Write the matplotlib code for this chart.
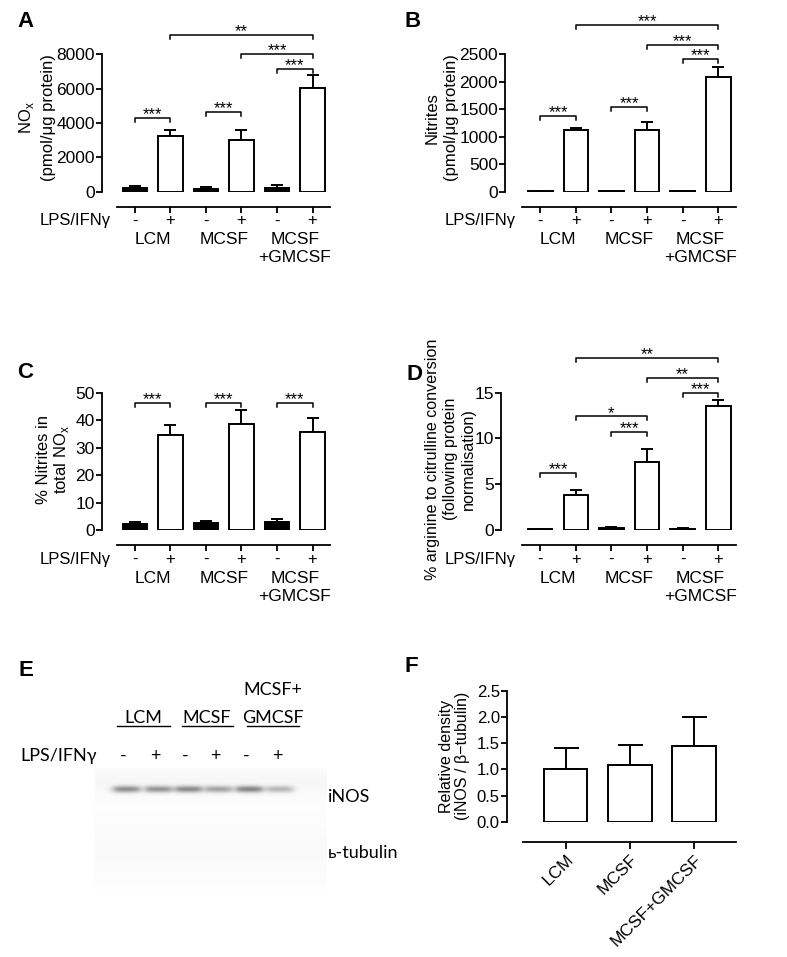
import numpy as np
import matplotlib
matplotlib.use("Agg")
from matplotlib import pyplot as plt

plt.rcParams['font.family'] = ['Liberation Sans', 'DejaVu Sans']

# data
treat = ['-', '+', '-', '+', '-', '+']
groups = ['LCM', 'MCSF', 'MCSF\n+GMCSF']

nox_mean = [200, 3260, 160, 3030, 200, 6020]
nox_err = [130, 330, 115, 580, 170, 780]
nox_brackets = [(0, 1, 4300, '***'), (2, 3, 4650, '***'), (4, 5, 7170, '***'),
                (3, 5, 8000, '***'), (1, 5, 9140, '**')]

nit_mean = [10, 1130, 8, 1125, 10, 2093]
nit_err = [0, 30, 0, 137, 0, 170]
nit_brackets = [(0, 1, 1383, '***'), (2, 3, 1535, '***'), (4, 5, 2409, '***'),
                (3, 5, 2670, '***'), (1, 5, 3034, '***')]

pct_mean = [2.3, 34.5, 2.5, 38.6, 2.8, 35.6]
pct_err = [0.7, 3.8, 0.6, 5.0, 1.1, 5.3]
pct_brackets = [(0, 1, 46.4, '***'), (2, 3, 46.4, '***'), (4, 5, 46.4, '***')]

cit_mean = [0.1, 3.8, 0.2, 7.4, 0.12, 13.55]
cit_err = [0.05, 0.55, 0.1, 1.45, 0.08, 0.65]
cit_brackets = [(0, 1, 6.2, '***'), (2, 3, 10.7, '***'), (1, 3, 12.4, '*'),
                (4, 5, 15.0, '***'), (3, 5, 16.6, '**'), (1, 5, 18.8, '**')]

dens_labels = ['LCM', 'MCSF', 'MCSF+GMCSF']
dens_mean = [1.0, 1.09, 1.44]
dens_err = [0.41, 0.38, 0.55]

band_strength = [0.42, 0.40, 0.44, 0.34, 0.46, 0.26]

W, H = 787, 957
fig = plt.figure(figsize=(W / 100, H / 100), dpi=100)


def px_axes(left, top, right, bottom):
    return fig.add_axes([left / W, 1 - bottom / H, (right - left) / W, (bottom - top) / H])


def bar_panel(ax, means, errs, ymax, yticks, brackets, xleft):
    x = np.arange(6)
    ax.bar(x, means, width=0.69, color=['black', 'white'] * 3, edgecolor='black',
           linewidth=1.4, zorder=3)
    ax.errorbar(x, means, yerr=[np.zeros(6), errs], fmt='none', ecolor='black',
                elinewidth=1.4, capsize=4.5, capthick=1.4, zorder=2)
    ax.set_xlim(xleft, 5.55)
    ax.set_ylim(0, ymax)
    ax.set_yticks(yticks)
    ax.set_xticks(x)
    ax.spines['top'].set_visible(False)
    ax.spines['right'].set_visible(False)
    ax.spines['left'].set_linewidth(1.3)
    ax.spines['bottom'].set_linewidth(1.3)
    ax.spines['left'].set_bounds(0, ymax)
    ax.spines['bottom'].set_position(('outward', 10.8))
    ax.spines['bottom'].set_bounds(-0.5, 5.5)
    ax.tick_params(axis='y', direction='out', length=4, width=1.3, labelsize=12.5, pad=1)
    ax.tick_params(axis='x', direction='out', length=4, width=1.3, labelbottom=False)
    drop = ymax * 4 / 137.4
    for x1, x2, y, s in brackets:
        ax.plot([x1, x1, x2, x2], [y - drop, y, y, y - drop], color='black', lw=1.1,
                clip_on=False)
        ax.text((x1 + x2) / 2, y - drop * 0.3, s, ha='center', va='baseline',
                fontsize=12, clip_on=False)
    tr = ax.get_xaxis_transform()
    ax.text(-0.68, -0.213, 'LPS/IFNγ', transform=tr, ha='right', va='center', fontsize=12)
    for i, t in enumerate(treat):
        ax.text(i, -0.213, t, transform=tr, ha='center', va='center', fontsize=12)
    for g, name in enumerate(groups):
        ax.text(2 * g + 0.5, -0.295, name, transform=tr, ha='center', va='top',
                fontsize=12.5, linespacing=1.25)


def panel_letter(x, y, s):
    fig.text(x / W, 1 - y / H, s, fontsize=16, fontweight='bold', ha='left', va='center')


def vlabel(xs, y, lines, size=12):
    # one text per line, centred on its own column
    for x, s in zip(xs, lines):
        fig.text(x / W, 1 - y / H, s, rotation=90, ha='center', va='center', fontsize=size)


# A
axA = px_axes(101.7, 54.3, 332.1, 191.7)
bar_panel(axA, nox_mean, nox_err, 8000, [0, 2000, 4000, 6000, 8000], nox_brackets, -0.93)
vlabel([27, 48], 118, ['NO$_\\mathregular{x}$', '(pmol/μg protein)'])
panel_letter(17, 21.7, 'A')

# B
axB = px_axes(505, 54.3, 737.9, 191.7)
bar_panel(axB, nit_mean, nit_err, 2500, [0, 500, 1000, 1500, 2000, 2500], nit_brackets, -0.99)
vlabel([431.7, 451.7], 118, ['Nitrites', '(pmol/μg protein)'])
panel_letter(405, 21.7, 'B')

# C
axC = px_axes(101.7, 392.7, 332.1, 530)
bar_panel(axC, pct_mean, pct_err, 50, [0, 10, 20, 30, 40, 50], pct_brackets, -0.93)
vlabel([43, 61.7], 460, ['% Nitrites in', 'total NO$_\\mathregular{x}$'])
panel_letter(17, 373, 'C')

# D
axD = px_axes(501, 392.7, 737.9, 530)
bar_panel(axD, cit_mean, cit_err, 15, [0, 5, 10, 15], cit_brackets, -1.1)
vlabel([432, 451, 468], 459,
       ['% arginine to citrulline conversion', '(following protein', 'normalisation)'],
       size=11.6)
panel_letter(406, 375, 'D')

# E - western blot
axE = px_axes(0, 640, 400, 957)
axE.set_xlim(0, 400)
axE.set_ylim(957, 640)
axE.axis('off')
lane_x = [126.5, 158.5, 188.5, 218.5, 249.5, 280]
gx = np.linspace(95, 327, 464)
gy = np.linspace(768, 890, 244)
XX, YY = np.meshgrid(gx, gy)
blot = 0.99 - 0.02 * np.exp(-((YY - 782) / 14.0) ** 2) - 0.012 * np.exp(-((YY - 850) / 25.0) ** 2)
for cx, d in zip(lane_x, band_strength):
    prof_x = 1 / (1 + np.exp((np.abs(XX - cx) - 13.0) / 2.2))
    prof_y = np.exp(-((YY - 789) / 3.4) ** 2)
    blot = blot - d * prof_x * prof_y
axE.imshow(blot, cmap='gray', vmin=0, vmax=1, extent=[95, 327, 890, 768],
           aspect='auto', interpolation='bilinear')
efont = ['Lato', 'DejaVu Sans']
axE.text(20, 756, 'LPS/IFNγ', family=efont, fontsize=13, ha='left', va='center')
for cx, t in zip(lane_x, treat):
    axE.text(cx - 3, 756, t, family=efont, fontsize=13, ha='center', va='center')
axE.text(143, 718, 'LCM', family=efont, fontsize=13, ha='center', va='center')
axE.plot([117, 170], [726, 726], color='black', lw=1)
axE.text(207, 718, 'MCSF', family=efont, fontsize=13, ha='center', va='center')
axE.plot([182, 233], [726, 726], color='black', lw=1)
axE.text(273, 690, 'MCSF+', family=efont, fontsize=13, ha='center', va='center')
axE.text(273, 718, 'GMCSF', family=efont, fontsize=13, ha='center', va='center')
axE.plot([247, 299], [726, 726], color='black', lw=1)
axE.text(328, 797, 'iNOS', family=efont, fontsize=13, ha='left', va='center')
axE.text(328, 853, 'ь-tubulin', family=efont, fontsize=13, ha='left', va='center')
panel_letter(18, 670, 'E')

# F
axF = px_axes(506.7, 690.7, 739, 821.7)
xf = np.arange(3)
axF.bar(xf, dens_mean, width=0.675, color='white', edgecolor='black', linewidth=1.4, zorder=3)
axF.errorbar(xf, dens_mean, yerr=[np.zeros(3), dens_err], fmt='none', ecolor='black',
             elinewidth=1.4, capsize=9, capthick=1.4, zorder=2)
axF.set_xlim(-0.92, 2.7)
axF.set_ylim(0, 2.5)
axF.set_yticks([0, 0.5, 1.0, 1.5, 2.0, 2.5])
axF.set_yticklabels(['0.0', '0.5', '1.0', '1.5', '2.0', '2.5'])
axF.set_xticks(xf)
axF.set_xticklabels(dens_labels)
axF.spines['top'].set_visible(False)
axF.spines['right'].set_visible(False)
axF.spines['left'].set_linewidth(1.3)
axF.spines['bottom'].set_linewidth(1.3)
axF.spines['left'].set_bounds(0, 2.5)
axF.spines['bottom'].set_position(('outward', 14.8))
axF.spines['bottom'].set_bounds(-0.66, 2.65)
axF.tick_params(axis='y', direction='out', length=4, width=1.3, labelsize=12, pad=1)
axF.tick_params(axis='x', direction='out', length=5, width=1.3, labelsize=12.5, pad=2)
plt.setp(axF.get_xticklabels(), rotation=45, ha='right', rotation_mode='anchor')
vlabel([446.7, 462], 756, ['Relative density', '(iNOS / β−tubulin)'], size=11.5)
panel_letter(405, 667, 'F')

fig.savefig('out.png', dpi=100)
